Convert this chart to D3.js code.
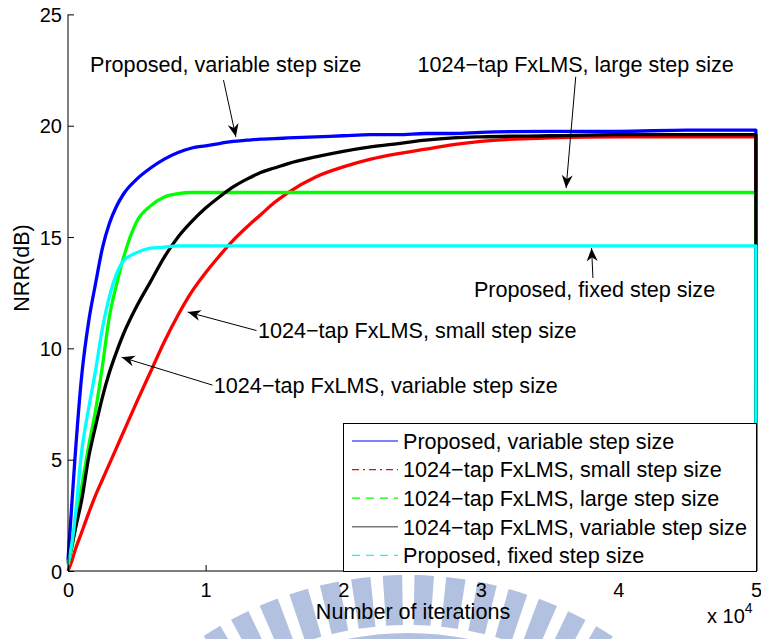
<!DOCTYPE html>
<html>
<head>
<meta charset="utf-8">
<script src="https://cdn.jsdelivr.net/npm/d3@7"></script>
<style>
  html, body { margin: 0; padding: 0; background: #fff; }
  svg { display: block; }
  text { font-family: "Liberation Sans", Arial, Helvetica, sans-serif; fill: #000; }
</style>
</head>
<body>
<svg id="chart" width="761" height="639"></svg>
<script>
// ---------------- data ----------------
const iterations = [0, 300, 500, 1000, 1500, 2000, 2500, 3000, 3500, 4000, 5000, 6000, 7000, 8000, 9000, 10000,
  11000, 12000, 13000, 14000, 15000, 16000, 18000, 20000, 22000, 24000, 26000, 28000, 30000, 35000, 40000, 45000, 49990, 50000];

const proposedVariable = [0.5, 3.2, 5.0, 8.8, 11.2, 12.9, 14.5, 15.6, 16.35, 16.9, 17.6, 18.1, 18.5, 18.8, 19.0, 19.1,
  19.2, 19.3, 19.35, 19.4, 19.42, 19.45, 19.5, 19.55, 19.6, 19.6, 19.65, 19.65, 19.7, 19.75, 19.75, 19.8, 19.8, 0];
const fxlmsSmall = [0, 0.5, 0.9, 1.75, 2.6, 3.4, 4.1, 4.8, 5.5, 6.2, 7.6, 8.95, 10.3, 11.5, 12.55, 13.4,
  14.15, 14.85, 15.45, 16.0, 16.55, 17.0, 17.7, 18.15, 18.5, 18.75, 18.95, 19.15, 19.3, 19.45, 19.5, 19.5, 19.5, 0];
const fxlmsLarge = [0.3, 1.1, 1.8, 3.8, 5.6, 7.2, 9.2, 11.4, 12.8, 14.0, 15.7, 16.4, 16.8, 16.95, 17.0, 17.0,
  17.0, 17.0, 17.0, 17.0, 17.0, 17.0, 17.0, 17.0, 17.0, 17.0, 17.0, 17.0, 17.0, 17.0, 17.0, 17.0, 17.0, 0];
const fxlmsVariable = [0.4, 1.2, 1.8, 3.2, 5.1, 6.5, 7.8, 8.9, 9.8, 10.6, 11.9, 13.0, 14.1, 15.0, 15.7, 16.3,
  16.8, 17.25, 17.6, 17.9, 18.1, 18.3, 18.6, 18.85, 19.05, 19.2, 19.35, 19.45, 19.5, 19.55, 19.6, 19.6, 19.6, 0];
const proposedFixed = [0.3, 1.3, 2.3, 5.4, 7.3, 9.0, 10.9, 12.3, 13.3, 13.9, 14.3, 14.5, 14.55, 14.6, 14.6, 14.6,
  14.6, 14.6, 14.6, 14.6, 14.6, 14.6, 14.6, 14.6, 14.6, 14.6, 14.6, 14.6, 14.6, 14.6, 14.6, 14.6, 14.6, 0];

const seriesNames = ["Proposed, variable step size", "1024\u2212tap FxLMS, small step size",
  "1024\u2212tap FxLMS, large step size", "1024\u2212tap FxLMS, variable step size", "Proposed, fixed step size"];
const seriesValues = [proposedVariable, fxlmsSmall, fxlmsLarge, fxlmsVariable, proposedFixed];
const seriesColors = ["#0000ff", "#ff0000", "#00ff00", "#000000", "#00ffff"];
const legendDash = [null, "7,4,2,4", "8,6", null, "8,6"];
const legendColors = ["#0000ff", "#ff0000", "#00ff00", "#777777", "#00ffff"];

const xTicks = [0, 10000, 20000, 30000, 40000, 50000];
const yTicks = [0, 5, 10, 15, 20, 25];

// annotations: text, anchor of text (iteration, dB), arrow tail/tip (iteration, dB)
const annotations = [
  { text: "Proposed, variable step size", tx: 1600, ty: 22.4, from: [11300, 22.05], to: [12200, 19.5] },
  { text: "1024\u2212tap FxLMS, large step size", tx: 25400, ty: 22.4, from: [36900, 22.2], to: [36200, 17.2] },
  { text: "Proposed, fixed step size", tx: 29500, ty: 12.3, from: [38150, 13.16], to: [38050, 14.5] },
  { text: "1024\u2212tap FxLMS, small step size", tx: 13800, ty: 10.47, from: [13700, 10.8], to: [8700, 11.63] },
  { text: "1024\u2212tap FxLMS, variable step size", tx: 10600, ty: 8.0, from: [10500, 8.35], to: [3900, 9.6] }
];

// ---------------- layout ----------------
const svg = d3.select("#chart");
const x = d3.scaleLinear().domain([0, 50000]).range([68, 756]);
const y = d3.scaleLinear().domain([0, 25]).range([571, 14.4]);
const FONT = 21.6;

// watermark (faint logo in the background)
const wm = svg.append("g").attr("transform", "translate(408,947)").attr("fill", "#b2c1df");
const stripeAngles = d3.range(-31.8, 33, 4.9);
const arcGen = d3.arc();
stripeAngles.forEach(a => {
  const a0 = (a - 1.5) * Math.PI / 180, a1 = (a + 1.5) * Math.PI / 180;
  wm.append("path").attr("d", arcGen({ innerRadius: 322, outerRadius: 372, startAngle: a0, endAngle: a1 }));
});
wm.append("path").attr("d", arcGen({ innerRadius: 280, outerRadius: 314, startAngle: -45 * Math.PI / 180, endAngle: 45 * Math.PI / 180 }));

// data lines
const line = d3.line().x(d => x(d[0])).y(d => y(d[1])).curve(d3.curveMonotoneX);
seriesValues.forEach((vals, i) => {
  const pts = iterations.map((it, k) => [it, vals[k]]);
  svg.append("path").datum(pts)
    .attr("d", line)
    .attr("fill", "none")
    .attr("stroke", seriesColors[i])
    .attr("stroke-width", 3.3)
    .attr("stroke-linejoin", "round");
});

// axes
const xAxis = d3.axisBottom(x).tickValues(xTicks).tickSize(-6).tickPadding(12)
  .tickFormat(d => d3.format("d")(d / 10000));
const gx = svg.append("g").attr("transform", `translate(0,${y(0)})`).call(xAxis);
gx.select(".domain").attr("d", `M${x(0)},0H${x(50000) + 1}`);
gx.selectAll("text").attr("font-size", 20).attr("font-family", "Liberation Sans, Arial, sans-serif").attr("dy", "0.7em");

const yAxis = d3.axisLeft(y).tickValues(yTicks).tickSize(-6).tickPadding(6);
const gy = svg.append("g").attr("transform", `translate(${x(0)},0)`).call(yAxis);
gy.select(".domain").attr("d", `M0,${y(25)}V${y(0)}`);
gy.selectAll("text").attr("font-size", 20).attr("font-family", "Liberation Sans, Arial, sans-serif").attr("dy", "0.36em");
[gx, gy].forEach(g => { g.selectAll("line").attr("stroke", "#000"); g.select(".domain").attr("stroke", "#000"); });

// axis labels
svg.append("text").attr("x", 413).attr("y", 619).attr("text-anchor", "middle")
  .attr("font-size", FONT).text("Number of iterations");
svg.append("text").attr("transform", "translate(29,268) rotate(-90)").attr("text-anchor", "middle")
  .attr("font-size", FONT).text("NRR(dB)");
const mult = svg.append("text").attr("x", 707).attr("y", 623).attr("font-size", 20);
mult.append("tspan").text("x 10");
mult.append("tspan").attr("dy", -10).attr("font-size", 14).text("4");

// arrow marker
const defs = svg.append("defs");
defs.append("marker").attr("id", "ah").attr("markerUnits", "userSpaceOnUse")
  .attr("viewBox", "-14 -7 16 14").attr("refX", 0).attr("refY", 0)
  .attr("markerWidth", 16).attr("markerHeight", 14).attr("orient", "auto")
  .append("path").attr("d", "M0,0 L-13,-5.5 L-9,0 L-13,5.5 Z").attr("fill", "#000");

annotations.forEach(a => {
  svg.append("text").attr("x", x(a.tx)).attr("y", y(a.ty)).attr("font-size", FONT).text(a.text);
  svg.append("line")
    .attr("x1", x(a.from[0])).attr("y1", y(a.from[1]))
    .attr("x2", x(a.to[0])).attr("y2", y(a.to[1]))
    .attr("stroke", "#000").attr("stroke-width", 1)
    .attr("marker-end", "url(#ah)");
});

// legend
const lg = svg.append("g");
lg.append("rect").attr("x", 343.5).attr("y", 423.5).attr("width", 413).attr("height", 148)
  .attr("fill", "#fff").attr("stroke", "#000").attr("stroke-width", 1);
seriesNames.forEach((name, i) => {
  const yy = 441 + i * 28.6;
  lg.append("line").attr("x1", 352).attr("x2", 398).attr("y1", yy).attr("y2", yy)
    .attr("stroke", legendColors[i]).attr("stroke-width", i === 3 ? 1.6 : 1.2)
    .attr("stroke-dasharray", legendDash[i]);
  lg.append("text").attr("x", 403).attr("y", yy).attr("dy", "0.36em")
    .attr("font-size", FONT).text(name);
});
</script>
</body>
</html>
